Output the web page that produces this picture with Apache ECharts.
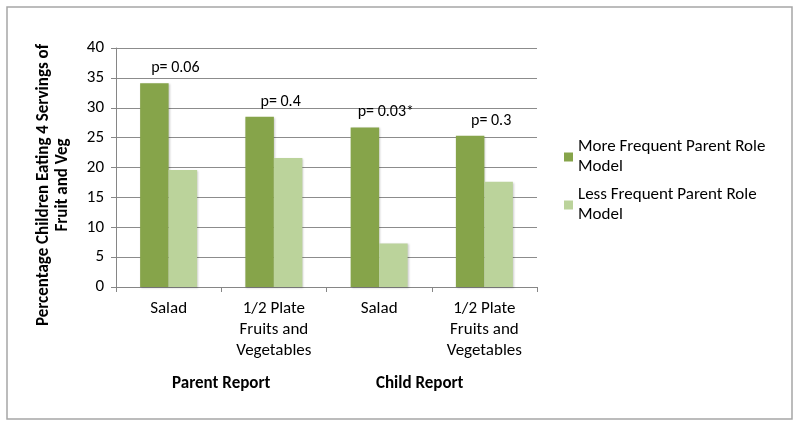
<!DOCTYPE html>
<html><head><meta charset="utf-8">
<script src="https://cdn.jsdelivr.net/npm/echarts@6/dist/echarts.min.js"></script>
<style>html,body{margin:0;padding:0;background:#fff}#c{width:800px;height:428px}</style>
</head><body><div id="c"></div>
<script>
const categories = ['Salad', '1/2 Plate\nFruits and\nVegetables', 'Salad', '1/2 Plate\nFruits and\nVegetables'];
const groups = ['Parent Report', 'Child Report'];
const moreFrequent = [34.1, 28.5, 26.7, 25.3];
const lessFrequent = [19.6, 21.6, 7.3, 17.6];
const pLabels = ['p= 0.06', 'p= 0.4', 'p= 0.03*', 'p= 0.3'];
const seriesNames = ['More Frequent Parent Role\nModel', 'Less Frequent Parent Role\nModel'];
const yTitle = 'Percentage Children Eating 4 Servings of\nFruit and Veg';

const FONT = 'Carlito, Lato, sans-serif';
const chart = echarts.init(document.getElementById('c'));
chart.setOption({
  animation: false,
  textStyle: { fontFamily: FONT },
  grid: { left: 116, right: 263, top: 48, bottom: 141 },
  graphic: [
    { type: 'rect', shape: { x: 7, y: 7, width: 785, height: 412 },
      style: { fill: 'none', stroke: '#a6a6a6', lineWidth: 1.5 }, silent: true },
    { type: 'text', x: 53, y: 185, rotation: Math.PI / 2,
      style: { text: yTitle, font: 'bold 17px ' + FONT, fill: '#000', align: 'center',
               verticalAlign: 'middle', lineHeight: 19 } }
  ],
  legend: {
    orient: 'vertical', left: 564, top: 127, padding: 0,
    itemWidth: 9, itemHeight: 9, itemGap: -12, icon: 'rect',
    textStyle: { fontSize: 17, color: '#000', lineHeight: 20, padding: [20, 0, 0, 0] },
    data: seriesNames
  },
  xAxis: [
    { type: 'category', data: categories,
      axisLine: { lineStyle: { color: '#868686' } },
      axisTick: { show: true, length: 5, lineStyle: { color: '#868686' } },
      axisLabel: { color: '#000', fontSize: 17, lineHeight: 21, margin: 11, interval: 0 } },
    { type: 'category', data: groups, position: 'bottom',
      axisLine: { show: false }, axisTick: { show: false },
      axisLabel: { color: '#000', fontSize: 17, fontWeight: 'bold', margin: 88, interval: 0,
        formatter: (v, i) => i === 1 ? '{c|' + v + '}' : v,
        rich: { c: { fontSize: 17, fontWeight: 'bold', color: '#000', padding: [0, 24, 0, 0] } } } }
  ],
  yAxis: {
    type: 'value', min: 0, max: 40, interval: 5,
    axisLine: { show: true, lineStyle: { color: '#868686' } },
    axisTick: { show: true, length: 5, lineStyle: { color: '#868686' } },
    axisLabel: { color: '#000', fontSize: 17, margin: 12 },
    splitLine: { lineStyle: { color: '#8c8c8c' } }
  },
  series: [
    { name: seriesNames[0], type: 'bar', data: moreFrequent, barWidth: 28.5, barGap: '0%',
      itemStyle: { color: '#86a44a', shadowColor: 'rgba(0,0,0,0.2)', shadowBlur: 2, shadowOffsetX: 1, shadowOffsetY: 1 },
      label: { show: true, position: 'top', offset: [21, -2], fontSize: 16, color: '#000',
               formatter: p => pLabels[p.dataIndex] } },
    { name: seriesNames[1], type: 'bar', data: lessFrequent, barWidth: 28.5, barGap: '0%',
      itemStyle: { color: '#bbd39b', shadowColor: 'rgba(0,0,0,0.2)', shadowBlur: 2, shadowOffsetX: 1, shadowOffsetY: 1 } }
  ]
});
</script></body></html>
